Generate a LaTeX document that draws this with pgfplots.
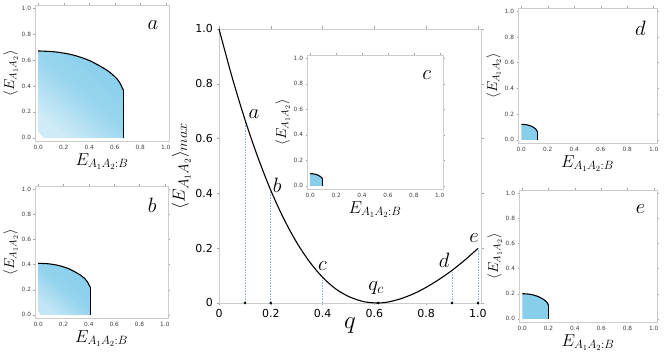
\documentclass[border=0pt]{standalone}
\usepackage{pgfplots}
\pgfplotsset{compat=1.18}
\usepackage{fontspec}
\setsansfont{DejaVu Sans}
\definecolor{skyb}{HTML}{87CEEB}
\definecolor{dotb}{HTML}{8FB8E8}
\definecolor{framegray}{HTML}{CCCCCC}
\tikzset{
  bnd/.style={black, line width=1.1pt},
  lett/.style={font=\fontsize{21}{22}\selectfont},
}
\pgfplotsset{
  inset/.style={
    scale only axis, anchor=south west, clip=false,
    xmin=-0.025, xmax=1.025, ymin=-0.025, ymax=1.025,
    axis line style={framegray, line width=0.6pt},
    tick align=outside, major tick length=1.5pt,
    tick style={gray!70, line width=0.4pt},
    xtick={0,0.2,0.4,0.6,0.8,1.0}, ytick={0,0.2,0.4,0.6,0.8,1.0},
    xticklabels={0.0,0.2,0.4,0.6,0.8,1.0}, yticklabels={0.0,0.2,0.4,0.6,0.8,1.0},
    xticklabel style={font=\sffamily\fontsize{5.8}{6}\selectfont, text=black!75, yshift=1pt},
    yticklabel style={font=\sffamily\fontsize{5.8}{6}\selectfont, text=black!75, xshift=1pt},
    /pgf/number format/assume math mode=true,
    xlabel={$E_{A_1A_2:B}$}, ylabel={$\langle E_{A_1A_2}\rangle$},
    xlabel style={font=\fontsize{17}{18}\selectfont, yshift=3pt},
    ylabel style={font=\fontsize{14}{15}\selectfont, yshift=-3pt},
  },
}
\begin{document}
\begin{tikzpicture}
\useasboundingbox (0pt,0pt) rectangle (665pt,355pt);

% ---------- main axis ----------
\begin{axis}[scale only axis, anchor=south west, at={(219pt,52pt)}, width=262pt, height=274pt,
  xmin=0, xmax=1.012, ymin=0, ymax=1.0, clip=false,
  axis line style={framegray, line width=0.8pt},
  tick align=outside, major tick length=2.5pt, tick style={gray!70, line width=0.5pt},
  xtick={0,0.2,0.4,0.6,0.8,1.0}, ytick={0,0.2,0.4,0.6,0.8,1.0},
  xticklabels={0,0.2,0.4,0.6,0.8,1.0}, yticklabels={0,0.2,0.4,0.6,0.8,1.0},
  ticklabel style={font=\sffamily\fontsize{11}{12}\selectfont},
  /pgf/number format/assume math mode=true,
  xlabel={$q$}, xlabel style={font=\fontsize{24}{26}\selectfont, yshift=6pt},
  ylabel={$\langle E_{A_1A_2}\rangle_{max}$}, ylabel style={font=\fontsize{19}{20}\selectfont, yshift=-2pt},
]
\addplot[dotb, densely dotted, line width=0.6pt] coordinates {(0.1,0) (0.1,0.67)};
\addplot[dotb, densely dotted, line width=0.6pt] coordinates {(0.2,0) (0.2,0.411)};
\addplot[dotb, densely dotted, line width=0.6pt] coordinates {(0.4,0) (0.4,0.094)};
\addplot[dotb, densely dotted, line width=0.6pt] coordinates {(0.9,0) (0.9,0.119)};
\addplot[dotb, densely dotted, line width=0.6pt] coordinates {(1.0,0) (1.0,0.199)};
\addplot[black, line width=1.1pt, smooth] coordinates {
 (0,1) (0.05,0.826) (0.1,0.67) (0.15,0.532) (0.2,0.411) (0.25,0.308) (0.3,0.221)
 (0.35,0.150) (0.4,0.094) (0.45,0.052) (0.5,0.024) (0.55,0.007) (0.58,0.002) (0.615,0)
 (0.65,0.003) (0.7,0.015) (0.75,0.033) (0.8,0.057) (0.85,0.086) (0.9,0.119) (0.95,0.157) (1.0,0.199)};
\addplot[only marks, mark=*, mark size=1.1pt, black] coordinates {(0.1,0) (0.2,0) (0.615,0) (0.9,0) (1.0,0)};
\node[lett] at (axis cs:0.135,0.69) {$a$};
\node[lett] at (axis cs:0.225,0.43) {$b$};
\node[lett] at (axis cs:0.40,0.135) {$c$};
\node[lett] at (axis cs:0.607,0.055) {$q_c$};
\node[lett] at (axis cs:0.87,0.157) {$d$};
\node[lett] at (axis cs:0.985,0.237) {$e$};
\end{axis}

% ---------- inset a ----------
\begin{axis}[inset, at={(35pt,214pt)}, width=134pt, height=136pt]
\addplot[draw=none, bottom color=skyb!40, top color=skyb, middle color=skyb!85, shading angle=-40] coordinates {
 (0,0.67) (0.134,0.663) (0.268,0.640) (0.402,0.596) (0.536,0.523) (0.603,0.469) (0.6365,0.429) (0.67,0.362) (0.67,0) (0.04,0) (0,0.05)} -- cycle;
\addplot[bnd, smooth] coordinates {
 (0,0.67) (0.134,0.663) (0.268,0.640) (0.402,0.596) (0.536,0.523) (0.603,0.469) (0.6365,0.429) (0.67,0.362)};
\addplot[bnd] coordinates {(0.67,0.362) (0.67,0)};
\node[lett] at (axis cs:0.9,0.87) {$a$};
\end{axis}

% ---------- inset b ----------
\begin{axis}[inset, at={(35pt,37pt)}, width=133pt, height=132pt]
\addplot[draw=none, bottom color=skyb!50, top color=skyb, middle color=skyb!90, shading angle=-40] coordinates {
 (0,0.41) (0.082,0.406) (0.164,0.392) (0.246,0.365) (0.328,0.320) (0.369,0.287) (0.3895,0.262) (0.41,0.221) (0.41,0) (0.02,0) (0,0.03)} -- cycle;
\addplot[bnd, smooth] coordinates {
 (0,0.41) (0.082,0.406) (0.164,0.392) (0.246,0.365) (0.328,0.320) (0.369,0.287) (0.3895,0.262) (0.41,0.221)};
\addplot[bnd] coordinates {(0.41,0.221) (0.41,0)};
\node[lett] at (axis cs:0.9,0.87) {$b$};
\end{axis}

% ---------- inset c ----------
\begin{axis}[inset, at={(307pt,166pt)}, width=136pt, height=134pt]
\addplot[skyb, fill=skyb, draw=none] coordinates {
 (0,0.095) (0.019,0.094) (0.038,0.091) (0.057,0.085) (0.076,0.074) (0.0855,0.067) (0.090,0.061) (0.095,0.051) (0.095,0) (0,0)} -- cycle;
\addplot[bnd, smooth] coordinates {
 (0,0.095) (0.019,0.094) (0.038,0.091) (0.057,0.085) (0.076,0.074) (0.0855,0.067) (0.090,0.061) (0.095,0.051)};
\addplot[bnd] coordinates {(0.095,0.051) (0.095,0)};
\node[lett] at (axis cs:0.9,0.87) {$c$};
\end{axis}

% ---------- inset d ----------
\begin{axis}[inset, at={(518pt,212pt)}, width=139pt, height=135pt]
\addplot[skyb, fill=skyb, draw=none] coordinates {
 (0,0.12) (0.024,0.119) (0.048,0.115) (0.072,0.107) (0.096,0.094) (0.108,0.084) (0.114,0.077) (0.12,0.065) (0.12,0) (0,0)} -- cycle;
\addplot[bnd, smooth] coordinates {
 (0,0.12) (0.024,0.119) (0.048,0.115) (0.072,0.107) (0.096,0.094) (0.108,0.084) (0.114,0.077) (0.12,0.065)};
\addplot[bnd] coordinates {(0.12,0.065) (0.12,0)};
\node[lett] at (axis cs:0.9,0.87) {$d$};
\end{axis}

% ---------- inset e ----------
\begin{axis}[inset, at={(519pt,33pt)}, width=138pt, height=132pt]
\addplot[skyb, fill=skyb, draw=none] coordinates {
 (0,0.2) (0.04,0.198) (0.08,0.191) (0.12,0.178) (0.16,0.156) (0.18,0.14) (0.19,0.128) (0.2,0.108) (0.2,0) (0,0)} -- cycle;
\addplot[bnd, smooth] coordinates {
 (0,0.2) (0.04,0.198) (0.08,0.191) (0.12,0.178) (0.16,0.156) (0.18,0.14) (0.19,0.128) (0.2,0.108)};
\addplot[bnd] coordinates {(0.2,0.108) (0.2,0)};
\node[lett] at (axis cs:0.9,0.87) {$e$};
\end{axis}
\end{tikzpicture}
\end{document}
